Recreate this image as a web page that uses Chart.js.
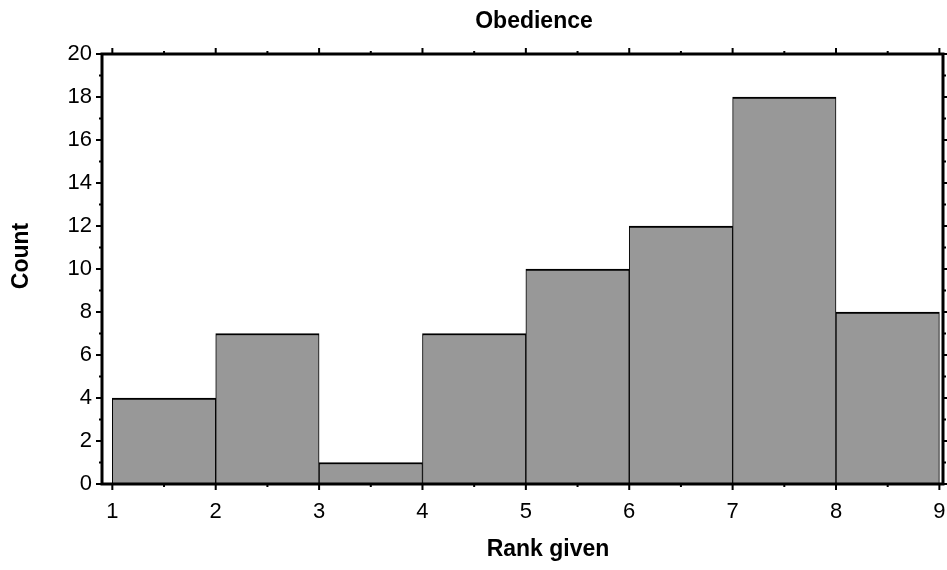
<!DOCTYPE html>
<html>
<head>
<meta charset="utf-8">
<script src="https://cdn.jsdelivr.net/npm/chart.js@4/dist/chart.umd.min.js"></script>
<style>
  html, body { margin: 0; padding: 0; background: #ffffff; }
  #wrap { width: 947px; height: 570px; }
</style>
</head>
<body>
<div id="wrap"><canvas id="hist" width="947" height="570"></canvas></div>
<script>
// Histogram of ranks given for "Obedience"
const binStarts = [1, 2, 3, 4, 5, 6, 7, 8];
const binEnds   = [2, 3, 4, 5, 6, 7, 8, 9];
const counts    = [4, 7, 1, 7, 10, 12, 18, 8];

const xTickValues = [1, 2, 3, 4, 5, 6, 7, 8, 9];
const xMinorValues = [1.5, 2.5, 3.5, 4.5, 5.5, 6.5, 7.5, 8.5];
const yTickValues = [0, 2, 4, 6, 8, 10, 12, 14, 16, 18, 20];
const yMinorValues = [1, 3, 5, 7, 9, 11, 13, 15, 17, 19];

const chartTitle = 'Obedience';
const xTitle = 'Rank given';
const yTitle = 'Count';

const FONT = '"Liberation Sans", Arial, Helvetica, sans-serif';

// each bar sits at the middle of its bin; the linear scale gives it the bin width
const points = binStarts.map((s, i) => ({ x: (s + binEnds[i]) / 2, y: counts[i] }));

// frame around the plot with outward tick marks on all four sides, plus titles
const framePlugin = {
  id: 'frame',
  afterDatasetsDraw(chart) {
    const { ctx, chartArea: a, scales } = chart;
    const xs = scales.x, ys = scales.y;
    ctx.save();
    ctx.strokeStyle = '#000';
    ctx.lineCap = 'butt';

    // tick marks
    ctx.lineWidth = 2;
    const tickX = (v, len) => {
      const p = xs.getPixelForValue(v);
      ctx.beginPath();
      ctx.moveTo(p, a.bottom); ctx.lineTo(p, a.bottom + len);
      ctx.moveTo(p, a.top); ctx.lineTo(p, a.top - len);
      ctx.stroke();
    };
    const tickY = (v, len) => {
      const p = ys.getPixelForValue(v);
      ctx.beginPath();
      ctx.moveTo(a.left, p); ctx.lineTo(a.left - len, p);
      ctx.moveTo(a.right, p); ctx.lineTo(a.right + len, p);
      ctx.stroke();
    };
    xTickValues.forEach(v => tickX(v, 6));
    xMinorValues.forEach(v => tickX(v, 3));
    yTickValues.forEach(v => tickY(v, 6));
    yMinorValues.forEach(v => tickY(v, 3));

    // box
    ctx.lineWidth = 3;
    ctx.beginPath();
    ctx.rect(a.left, a.top, a.right - a.left, a.bottom - a.top);
    ctx.stroke();

    // titles
    ctx.fillStyle = '#000';
    ctx.font = 'bold 23px ' + FONT;
    ctx.textAlign = 'center';
    ctx.textBaseline = 'middle';
    ctx.fillText(chartTitle, 534, 22);
    ctx.fillText(xTitle, 548, 550);
    ctx.translate(22, 256);
    ctx.rotate(-Math.PI / 2);
    ctx.fillText(yTitle, 0, 0);
    ctx.restore();
  }
};

new Chart(document.getElementById('hist'), {
  type: 'bar',
  data: {
    datasets: [{
      data: points,
      backgroundColor: '#989898',
      borderColor: '#000000',
      borderWidth: { top: 2, left: 1, right: 1, bottom: 0 },
      borderSkipped: 'start',
      barPercentage: 1,
      categoryPercentage: 1
    }]
  },
  options: {
    responsive: false,
    animation: false,
    devicePixelRatio: 1,
    layout: { padding: { top: 54, right: 4, left: 0, bottom: 0 } },
    plugins: {
      legend: { display: false },
      title: { display: false },
      tooltip: { enabled: false }
    },
    scales: {
      x: {
        type: 'linear',
        offset: false,
        min: 0.9,
        max: 9.035,
        grid: { display: false, drawTicks: false, offset: false },
        border: { display: false },
        afterBuildTicks(scale) { scale.ticks = xTickValues.map(v => ({ value: v })); },
        afterFit(scale) {
          scale.height = 86;
          scale.paddingLeft = 0;
          scale.paddingRight = 0;
        },
        ticks: {
          color: '#000',
          padding: 15,
          maxRotation: 0,
          autoSkip: false,
          font: { family: FONT, size: 22 }
        }
      },
      y: {
        type: 'linear',
        min: 0,
        max: 20,
        grid: { display: false, drawTicks: false },
        border: { display: false },
        afterBuildTicks(scale) { scale.ticks = yTickValues.map(v => ({ value: v })); },
        afterFit(scale) {
          scale.width = 102;
          scale.paddingTop = 0;
          scale.paddingBottom = 0;
        },
        ticks: {
          color: '#000',
          padding: 10,
          autoSkip: false,
          font: { family: FONT, size: 22 }
        }
      }
    }
  },
  plugins: [framePlugin]
});
</script>
</body>
</html>
